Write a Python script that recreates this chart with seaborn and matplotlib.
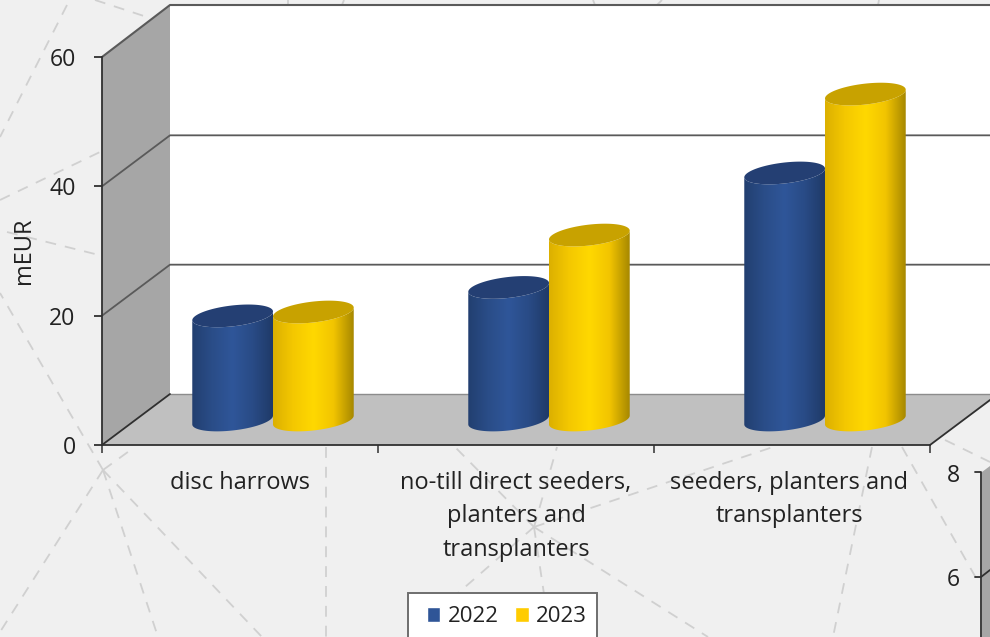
import numpy as np
import pandas as pd
import matplotlib
matplotlib.use('Agg')
import matplotlib.pyplot as plt
from matplotlib.colors import LinearSegmentedColormap
from matplotlib.patches import Polygon
from matplotlib.transforms import ScaledTranslation
import seaborn as sns

categories = ['disc harrows',
              'no-till direct seeders,\nplanters and\ntransplanters',
              'seeders, planters and\ntransplanters']
years = ['2022', '2023']
values_2022 = [16.1, 20.5, 38.2]
values_2023 = [16.7, 28.6, 50.4]
y_ticks = [0, 20, 40, 60]

# background dashed web, pixel end points
web_lines = [
    ((103, 470), (0, 632)), ((103, 470), (158, 637)), ((103, 470), (262, 637)),
    ((103, 470), (0, 293)), ((103, 470), (132, 449)), ((67, 5), (0, 137)),
    ((95, 0), (150, 18)), ((0, 200), (100, 152)), ((7, 232), (95, 254)),
    ((326, 447), (326, 637)),
    ((534, 527), (455, 447)), ((534, 527), (557, 447)), ((534, 527), (773, 447)),
    ((534, 527), (457, 594)), ((534, 527), (544, 594)), ((534, 527), (708, 637)),
    ((872, 447), (833, 637)), ((902, 447), (980, 585)), ((945, 440), (990, 462)),
    ((288, 0), (288, 5)), ((342, 5), (344, 0)), ((595, 5), (593, 0)),
    ((657, 5), (662, 0)), ((878, 5), (879, 0)),
]

W, H = 990, 637
FONT_X = 17
FONT_Y = 16.6
TEXT = '#222222'
DARK = '#303030'
GRID = '#5a5a5a'
PX_PER_UNIT = 388 / 60

sns.set_theme(style='white')
plt.rcParams['font.family'] = ['Open Sans', 'DejaVu Sans']

fig = plt.figure(figsize=(W / 100, H / 100), dpi=100, facecolor='#f0f0f0')


def axes_px(left, right, top, bottom):
    return [left / W, 1 - bottom / H, (right - left) / W, (bottom - top) / H]


# pixel layer with the walls of the 3d box
bg = fig.add_axes([0, 0, 1, 1], zorder=0)
bg.set_xlim(0, W)
bg.set_ylim(H, 0)
bg.axis('off')
for a, b in web_lines:
    bg.plot([a[0], b[0]], [a[1], b[1]], color='#d0d0d0', lw=1.3, dashes=(6, 5), zorder=1)

bg.add_patch(Polygon([(170, 5), (990, 5), (990, 394), (170, 394)], fc='white', ec='none', zorder=2))
bg.add_patch(Polygon([(102, 445), (170, 394), (170, 5), (102, 57)], fc='#a6a6a6', ec='none', zorder=2))
bg.add_patch(Polygon([(102, 445), (170, 394), (1000, 394), (930, 445)], fc='#c0c0c0', ec='none', zorder=2))
bg.plot([102, 170, 990], [57, 5, 5], color=GRID, lw=1.5, zorder=3)
bg.plot([170, 990], [394, 394], color='#8c8c8c', lw=1, zorder=3)
bg.plot([102, 170], [445, 394], color=DARK, lw=1.3, zorder=3)
bg.plot([930, 998], [445, 394], color=DARK, lw=1.3, zorder=3)
for v in y_ticks[1:-1]:
    y = 445 - v * PX_PER_UNIT
    bg.plot([102, 170, 990], [y, y - 51, y - 51], color=GRID, lw=1.3, zorder=3)

# edge of the next chart, cut off by the crop
bg.add_patch(Polygon([(982, 472), (990, 466), (990, 637), (982, 637)], fc='#a6a6a6', ec='none', zorder=2))
bg.plot([975, 981, 981], [472, 472, 637], color=DARK, lw=1.3, zorder=3)
bg.plot([975, 981, 990], [577, 577, 570], color=DARK, lw=1.3, zorder=3)
bg.text(953.5, 475.5, '8', ha='center', va='center', fontsize=FONT_Y, color=TEXT, zorder=3)
bg.text(953.5, 580.5, '6', ha='center', va='center', fontsize=FONT_Y, color=TEXT, zorder=3)

# legend box runs off the bottom of the crop
bg.add_patch(Polygon([(408, 593), (597, 593), (597, 650), (408, 650)], fc='white', ec='#6e6e6e', lw=1.4, zorder=4))

# front axis with the ticks and labels
ax = fig.add_axes(axes_px(102, 930, 57, 445), zorder=1)
ax.patch.set_alpha(0)
ax.set_xlim(-0.5, 2.5)
ax.set_ylim(0, 60)
sns.despine(ax=ax, top=True, right=True)
ax.spines['left'].set_color(DARK)
ax.spines['bottom'].set_color(DARK)
ax.spines['left'].set_linewidth(1.3)
ax.spines['bottom'].set_linewidth(1.3)
ax.set_yticks(y_ticks)
ax.set_xticks([0, 1, 2], categories, linespacing=1.54)
ax.set_xticks([-0.5, 0.5, 1.5, 2.5], minor=True)
ax.tick_params(axis='y', left=True, length=6, width=1.3, color=DARK, labelsize=FONT_Y, labelcolor=TEXT, pad=13)
ax.tick_params(axis='x', which='minor', bottom=True, length=6, width=1.1, color=DARK)
ax.tick_params(axis='x', which='major', bottom=False, labelsize=FONT_X, labelcolor=TEXT, pad=12.5)
last = ax.get_xticklabels()[-1]
last.set_transform(last.get_transform() + ScaledTranslation(-3 / 100, 0, fig.dpi_scale_trans))
ax.set_ylabel('mEUR', fontsize=17, color=TEXT)
ax.yaxis.set_label_coords((36 - 102) / 828, (445 - 251) / 388)

# bars sit half way into the box
bar_ax = fig.add_axes(axes_px(135, 963, 32, 420), zorder=2)
bar_ax.patch.set_alpha(0)

df = pd.DataFrame({
    'category': categories * 2,
    'year': [years[0]] * 3 + [years[1]] * 3,
    'value': values_2022 + values_2023,
})
sns.barplot(data=df, x='category', y='value', hue='year', palette=['#2f5597', '#ffcc00'],
            width=0.585, gap=0, saturation=1, ax=bar_ax, errorbar=None)
bar_ax.set_xlim(-0.5, 2.5)
bar_ax.set_ylim(0, 60)
bar_ax.autoscale(False)
bar_ax.axis('off')

shades = [
    LinearSegmentedColormap.from_list('blue', ['#223f70', '#2a4d88', '#2f5699', '#294b86', '#1f3a68']),
    LinearSegmentedColormap.from_list('gold', ['#dcb000', '#f4c800', '#ffd800', '#f2c400', '#a68700']),
]
caps = ['#243f73', '#c8a200']
ramp = np.linspace(0, 1, 256)[None, :]
t = np.linspace(0, 2 * np.pi, 121)
lower = np.linspace(np.pi, 2 * np.pi, 61)
Ry, Sy = 1.62, 0.68  # ellipse height and tilt in value units

for i, container in enumerate(bar_ax.containers):
    for bar in container:
        bar.set_visible(False)
        x0, w, top = bar.get_x(), bar.get_width(), bar.get_height()
        cx = x0 + w / 2
        xs_low = cx + w / 2 * np.cos(lower)
        ys_low = Ry * np.sin(lower) + Sy * np.cos(lower)
        outline = np.r_[np.c_[xs_low, ys_low], np.c_[xs_low[::-1], top + ys_low[::-1]]]
        body = Polygon(outline, fc='none', ec='none', zorder=3 + i, clip_on=False)
        bar_ax.add_patch(body)
        im = bar_ax.imshow(ramp, extent=(x0, x0 + w, -3, top + 3), aspect='auto',
                           cmap=shades[i], zorder=3 + i)
        im.set_clip_box(fig.bbox)
        im.set_clip_path(body)
        cap = np.c_[cx + w / 2 * np.cos(t), top + Ry * np.sin(t) + Sy * np.cos(t)]
        bar_ax.add_patch(Polygon(cap, fc=caps[i], ec='none', zorder=3 + i))

sns.move_legend(bar_ax, 'upper left', bbox_to_anchor=(426.5 / W, 1 - 606 / H),
                bbox_transform=fig.transFigure, ncol=2, title=None, frameon=False,
                fontsize=15.9, handlelength=0.63, handleheight=0.64,
                handletextpad=0.32, columnspacing=0.76, borderpad=0,
                borderaxespad=0)
for txt in bar_ax.get_legend().get_texts():
    txt.set_color(TEXT)

fig.savefig('out.png', dpi=100, facecolor=fig.get_facecolor())
